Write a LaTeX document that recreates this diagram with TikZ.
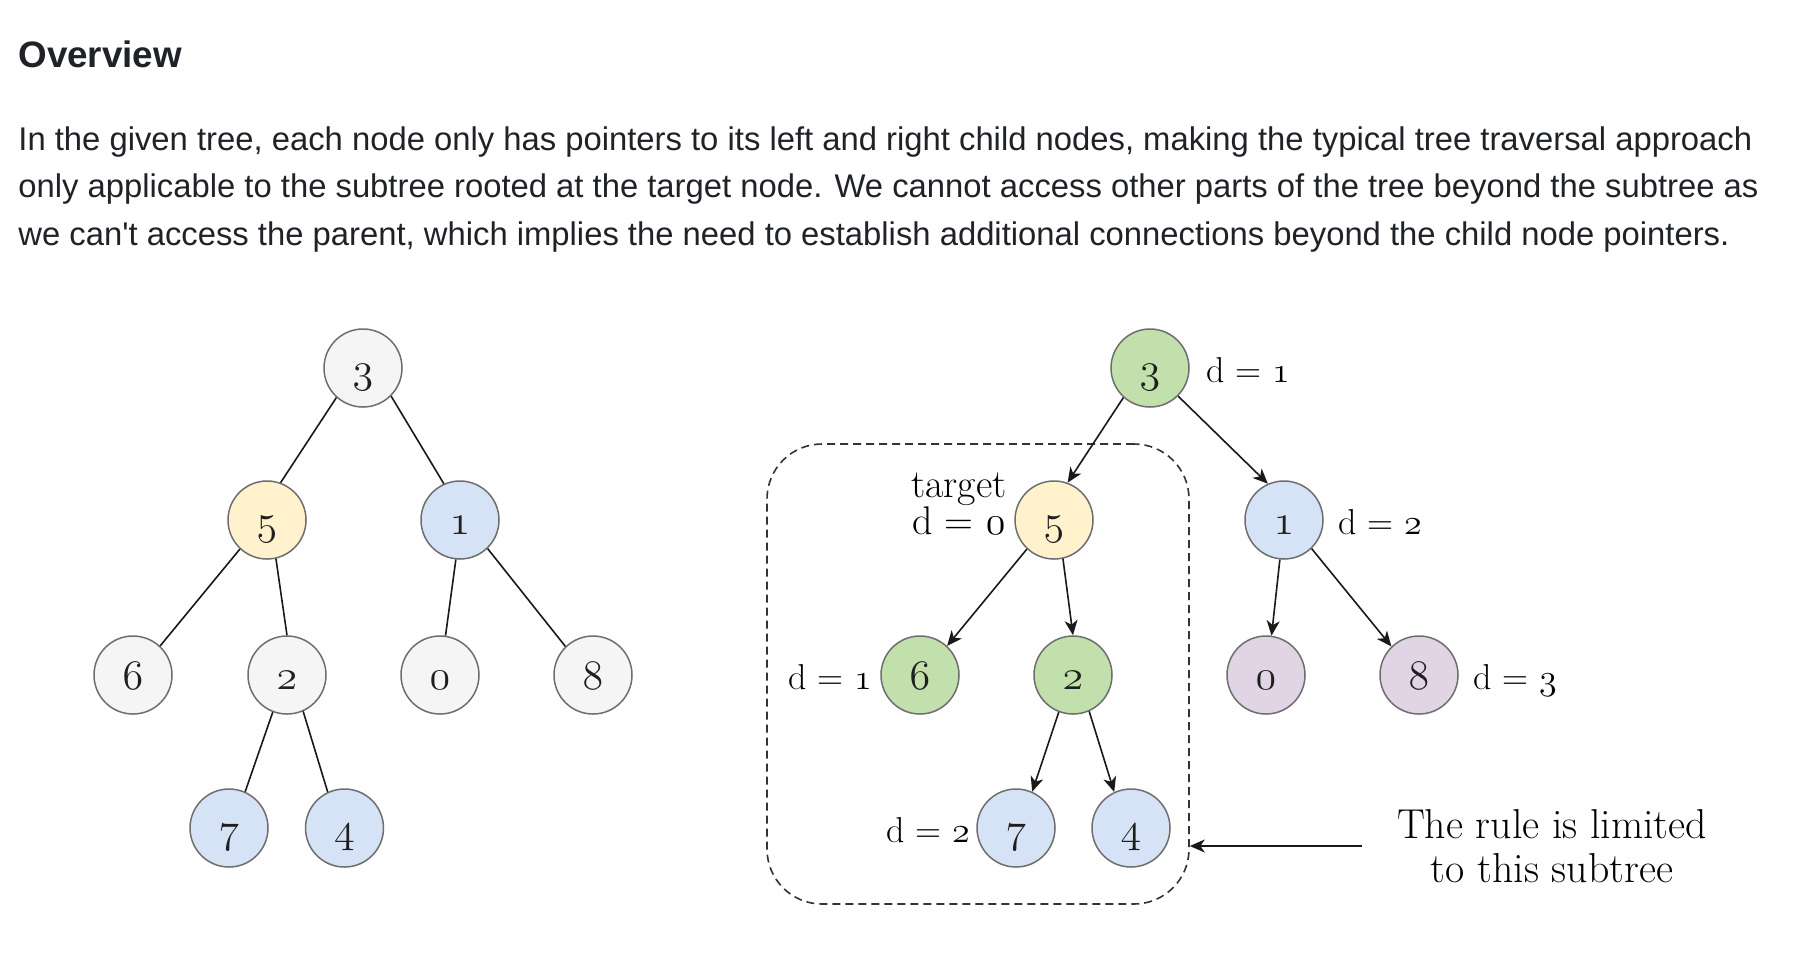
\RequirePackage{fix-cm}
\documentclass[tikz,border=0pt]{standalone}
\usepackage{fontspec}
\newfontfamily\uifont{Liberation Sans}
\usetikzlibrary{arrows.meta,positioning}
\definecolor{uitext}{RGB}{31,35,40}
\definecolor{nodeline}{RGB}{110,110,110}
\definecolor{nodegrey}{RGB}{245,245,245}
\definecolor{nodeyellow}{RGB}{255,242,204}
\definecolor{nodeblue}{RGB}{214,227,246}
\definecolor{nodegreen}{RGB}{193,224,171}
\definecolor{nodepurple}{RGB}{225,213,229}
\definecolor{edgeline}{RGB}{25,25,25}
\newcommand{\oldnum}[1]{{\usefont{OML}{cmm}{m}{it}#1}}

\begin{document}
\begin{tikzpicture}[x=0.5pt, y=-0.5pt]
            \tikzstyle{every node} = [inner sep=0pt]
            \tikzstyle{tree node} = [circle, draw=nodeline, line width=0.75pt,
                minimum size=39pt, text=black!88, text height=14pt, text depth=0pt,
                font=\fontsize{21}{22}\selectfont]
            \tikzstyle{greynode} = [tree node, fill=nodegrey]
            \tikzstyle{yellownode} = [tree node, fill=nodeyellow]
            \tikzstyle{bluenode} = [tree node, fill=nodeblue]
            \tikzstyle{greennode} = [tree node, fill=nodegreen]
            \tikzstyle{purplenode} = [tree node, fill=nodepurple]
            \tikzstyle{dlabel} = [text=black, text height=14pt, text depth=0pt,
                font=\fontsize{18}{20}\selectfont]
            \tikzstyle{link} = [draw=edgeline, line width=0.8pt]
            \tikzstyle{ptr} = [link, -{Stealth[length=7.5pt, width=6.5pt, inset=2.2pt]}]

            \fill[white] (0,0) rectangle (1810,966);
            \useasboundingbox (0,0) rectangle (1810,966);

            \node[anchor=base west, text=uitext,
                font=\uifont\bfseries\fontsize{18.4}{22}\selectfont] (title) at (18,67) {Overview};
            \node[anchor=base west, align=left, text=uitext,
                font=\uifont\fontsize{16.4}{23.75}\selectfont] (intro) at (18,245)
                {In the given tree, each node only has pointers to its left and right child nodes, making the typical tree traversal approach\\
                 only applicable to the subtree rooted at the target node. We cannot access other parts of the tree beyond the subtree as\\
                 we can\textquotesingle t access the parent, which implies the need to establish additional connections beyond the child node pointers.};

            \node[greynode] (l3) at (363,368) {\oldnum{3}};
            \node[yellownode] (l5) at (267,520) {\oldnum{5}};
            \node[bluenode] (l1) at (460,520) {\oldnum{1}};
            \node[greynode] (l6) at (133,675) {\oldnum{6}};
            \node[greynode] (l2) at (287,675) {\oldnum{2}};
            \node[greynode] (l0) at (440,675) {\oldnum{0}};
            \node[greynode] (l8) at (593,675) {\oldnum{8}};
            \node[bluenode] (l7) at (229,828) {\oldnum{7}};
            \node[bluenode] (l4) at (344.5,828) {\oldnum{4}};

            \draw[link] (l3.228) -- (l5.70);
            \draw[link] (l3.315) -- (l1.114);
            \draw[link] (l5.227) -- (l6.47);
            \draw[link] (l5.283) -- (l2.90);
            \draw[link] (l1.264) -- (l0.82);
            \draw[link] (l1.314) -- (l8.134);
            \draw[link] (l2.249) -- (l7.66);
            \draw[link] (l2.294) -- (l4.115);

            \node[draw=black!80, line width=0.8pt, dash pattern=on 4pt off 2.5pt,
                rounded corners=27.5pt, minimum width=211pt, minimum height=230pt]
                (subtree) at (978,674) {};

            \node[greennode] (r3) at (1150,368) {\oldnum{3}};
            \node[yellownode] (r5) at (1054,520) {\oldnum{5}};
            \node[bluenode] (r1) at (1284,520) {\oldnum{1}};
            \node[greennode] (r6) at (920,675) {\oldnum{6}};
            \node[greennode] (r2) at (1073,675) {\oldnum{2}};
            \node[purplenode] (r0) at (1266,675) {\oldnum{0}};
            \node[purplenode] (r8) at (1419,675) {\oldnum{8}};
            \node[bluenode] (r7) at (1016,828) {\oldnum{7}};
            \node[bluenode] (r4) at (1131,828) {\oldnum{4}};

            \draw[ptr] (r3.228) -- (r5.70);
            \draw[ptr] (r3.315) -- (r1.114);
            \draw[ptr] (r5.227) -- (r6.47);
            \draw[ptr] (r5.283) -- (r2.90);
            \draw[ptr] (r1.264) -- (r0.82);
            \draw[ptr] (r1.314) -- (r8.134);
            \draw[ptr] (r2.249) -- (r7.66);
            \draw[ptr] (r2.294) -- (r4.115);

            \node[dlabel, right=8pt of r3] (d3) {d = \oldnum{1}};
            \node[dlabel, right=7pt of r1] (d1) {d = \oldnum{2}};
            \node[dlabel, right=7pt of r8] (d8) {d = \oldnum{3}};
            \node[dlabel, left=4pt of r6] (d6) {d = \oldnum{1}};
            \node[dlabel, left=3pt of r7] (d7) {d = \oldnum{2}};
            \node[align=center, anchor=south east, text=black,
                font=\fontsize{20}{18.5}\selectfont] (target) at (1007,535)
                {target\\d = \oldnum{0}};

            \coordinate (notetail) at (1362,846);
            \draw[ptr] (notetail) -- (notetail -| subtree.east);
            \node[align=center, anchor=base, text=black,
                font=\fontsize{20.9}{22}\selectfont] (note) at (1552,882)
                {The rule is limited\\to this subtree};
\end{tikzpicture}
\end{document}
